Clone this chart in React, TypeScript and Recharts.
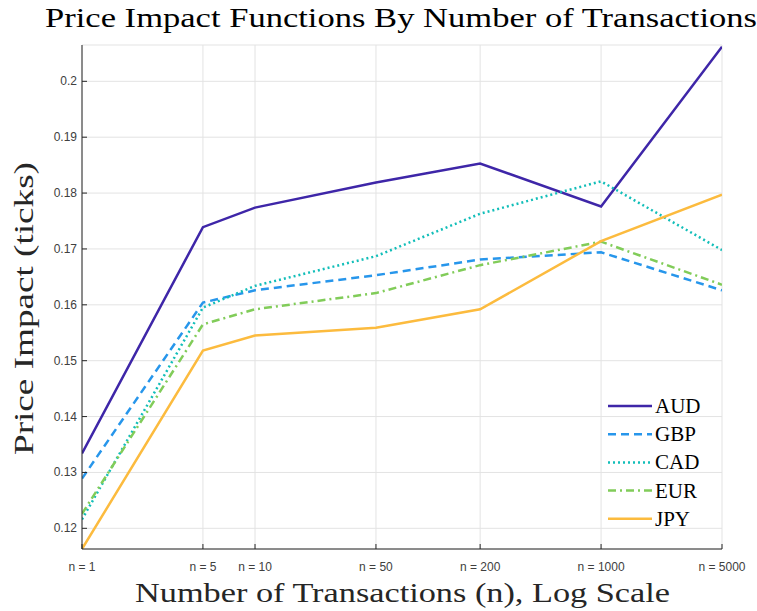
import React from 'react'
import { LineChart, Line, XAxis, YAxis, CartesianGrid } from 'recharts'

const transactions = [1, 5, 10, 50, 200, 1000, 5000]
const audImpact = [0.1334, 0.1739, 0.1774, 0.1819, 0.1853, 0.1776, 0.2062]
const gbpImpact = [0.1289, 0.1604, 0.1626, 0.1653, 0.1681, 0.1694, 0.1626]
const cadImpact = [0.1216, 0.1595, 0.1634, 0.1687, 0.1763, 0.1821, 0.1698]
const eurImpact = [0.1226, 0.1565, 0.1592, 0.1621, 0.1671, 0.1713, 0.1636]
const jpyImpact = [0.1163, 0.1518, 0.1545, 0.1559, 0.1592, 0.1714, 0.1797]
const yTicks = [0.12, 0.13, 0.14, 0.15, 0.16, 0.17, 0.18, 0.19, 0.2]

const series = [
  { key: 'AUD', color: '#3E26A8', dash: undefined },
  { key: 'GBP', color: '#2796EB', dash: '8 5' },
  { key: 'CAD', color: '#12BEB9', dash: '2 3' },
  { key: 'EUR', color: '#81CC59', dash: '8 4 2 4' },
  { key: 'JPY', color: '#FCBB3E', dash: undefined },
]

const chartData = transactions.map((n, i) => ({
  n,
  AUD: audImpact[i],
  GBP: gbpImpact[i],
  CAD: cadImpact[i],
  EUR: eurImpact[i],
  JPY: jpyImpact[i],
}))

const serif = '"Liberation Serif", "DejaVu Serif", serif'
const sans = '"Liberation Sans", Arial, sans-serif'
const axisColor = '#262626'

const XTick = (props: any) => {
  const { x, y, payload } = props
  return (
    <g>
      <line x1={x} y1={y} x2={x} y2={y - 5} stroke={axisColor} strokeWidth={1} />
      <text x={x} y={y + 22} textAnchor="middle" fontFamily={sans} fontSize={12} fill="#404040">
        {`n = ${payload.value}`}
      </text>
    </g>
  )
}

const YTick = (props: any) => {
  const { x, y, payload } = props
  return (
    <g>
      <line x1={x} y1={y} x2={x + 5} y2={y} stroke={axisColor} strokeWidth={1} />
      <text x={x - 5} y={y + 4} textAnchor="end" fontFamily={sans} fontSize={12} fill="#404040">
        {String(Number(payload.value.toFixed(2)))}
      </text>
    </g>
  )
}

export default function App() {
  return (
    <div style={{ position: 'absolute', left: 0, top: 0, width: 757, height: 611, background: '#fff' }}>
      <LineChart width={757} height={611} data={chartData} margin={{ top: 45, right: 35, bottom: 32, left: 22 }}>
        <CartesianGrid stroke="#e3e3e3" strokeWidth={1} />
        <XAxis
          dataKey="n"
          type="number"
          scale="log"
          domain={[1, 5000]}
          ticks={transactions}
          allowDataOverflow
          height={30}
          tickSize={0}
          tickMargin={0}
          tickLine={false}
          stroke={axisColor}
          tick={<XTick />}
          interval={0}
        />
        <YAxis
          type="number"
          domain={[0.1163, 0.2065]}
          ticks={yTicks}
          allowDataOverflow
          width={60}
          tickSize={0}
          tickMargin={0}
          tickLine={false}
          stroke={axisColor}
          tick={<YTick />}
          interval={0}
        />
        {series.map((s) => (
          <Line
            key={s.key}
            dataKey={s.key}
            stroke={s.color}
            strokeWidth={2.5}
            strokeDasharray={s.dash}
            dot={false}
            activeDot={false}
            isAnimationActive={false}
          />
        ))}
      </LineChart>
      <svg width={757} height={611} style={{ position: 'absolute', left: 0, top: 0, pointerEvents: 'none' }}>
        <text x={45} y={27} fontFamily={serif} fontSize={28} textLength={712} lengthAdjust="spacingAndGlyphs" fill="#000">
          Price Impact Functions By Number of Transactions
        </text>
        <text x={135} y={602} fontFamily={serif} fontSize={28} textLength={535} lengthAdjust="spacingAndGlyphs" fill="#262626">
          Number of Transactions (n), Log Scale
        </text>
        <text
          transform="translate(33, 455) rotate(-90)"
          x={0}
          y={0}
          fontFamily={serif}
          fontSize={28}
          textLength={293}
          lengthAdjust="spacingAndGlyphs"
          fill="#262626"
        >
          Price Impact (ticks)
        </text>
        {series.map((s, i) => {
          const cy = 406 + i * 28.2
          return (
            <g key={s.key}>
              <line x1={608} y1={cy} x2={652} y2={cy} stroke={s.color} strokeWidth={2.5} strokeDasharray={s.dash} />
              <text x={655} y={cy + 7} fontFamily={serif} fontSize={21} fill="#000">
                {s.key}
              </text>
            </g>
          )
        })}
      </svg>
    </div>
  )
}
